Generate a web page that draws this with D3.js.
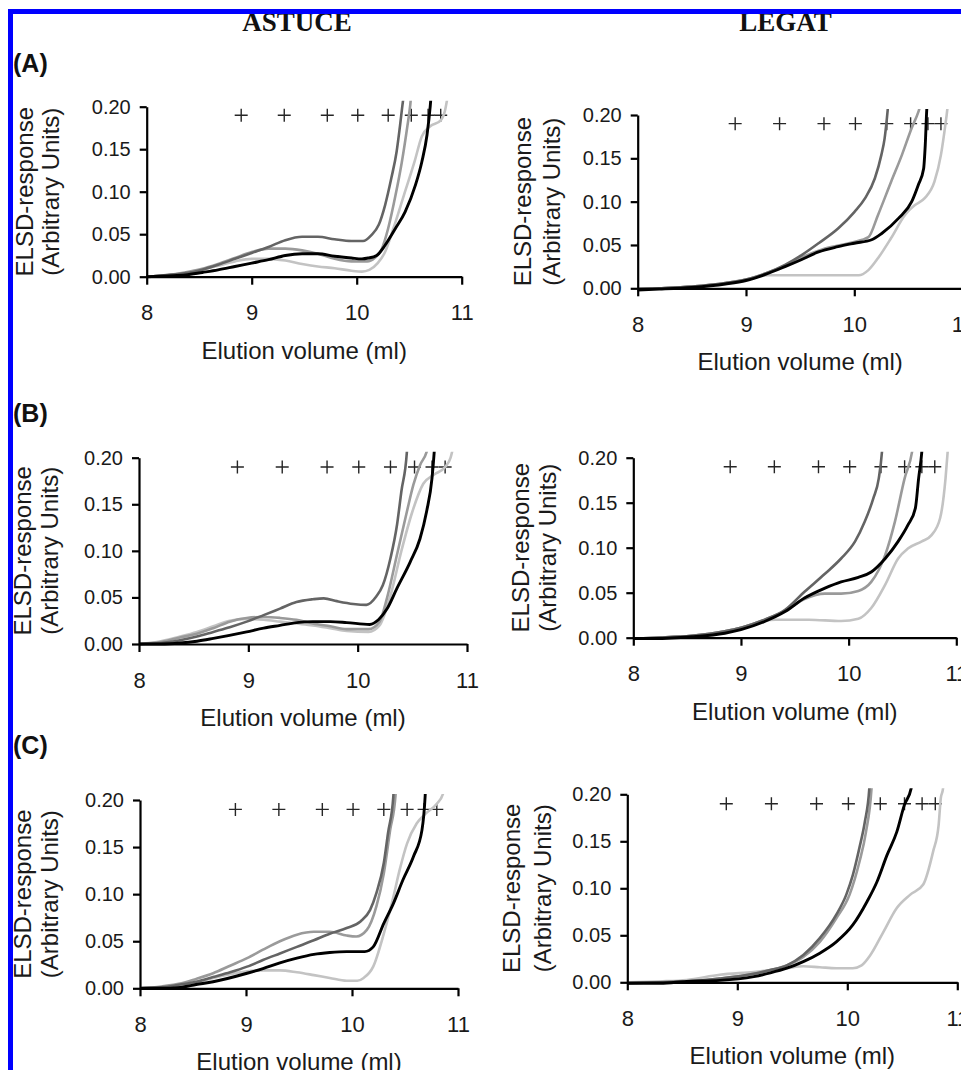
<!DOCTYPE html>
<html>
<head>
<meta charset="utf-8">
<script src="https://cdn.jsdelivr.net/npm/d3@7"></script>
<style>
  html, body { margin: 0; padding: 0; background: #ffffff; }
  svg { display: block; }
</style>
</head>
<body>
<script>
// ---------------- DATA ----------------
const columnTitles = ["ASTUCE", "LEGAT"];
const rowLabels = ["(A)", "(B)", "(C)"];
const xTicks = [8, 9, 10, 11];
const yTicks = [0, 0.05, 0.10, 0.15, 0.20];
const xTitle = "Elution volume (ml)";
const yTitle1 = "ELSD-response";
const yTitle2 = "(Arbitrary Units)";
// calibration standards (+ markers), elution volume (ml) and plotted level
const markerVolumes = [8.9, 9.31, 9.72, 10.01, 10.3, 10.52, 10.68, 10.8];
const markerLevel = 0.19;

// ASTUCE (A)
const astuceA_light  = [[8.0,0],[8.2,0.002],[8.36,0.004],[8.52,0.008],[8.68,0.013],[8.84,0.018],[9.0,0.021],[9.16,0.021],[9.32,0.019],[9.48,0.015],[9.63,0.012],[9.79,0.010],[9.95,0.007],[10.05,0.006],[10.12,0.008],[10.2,0.016],[10.27,0.029],[10.35,0.057],[10.45,0.096],[10.55,0.135],[10.62,0.165],[10.7,0.177],[10.8,0.184],[10.84,0.195],[10.87,0.215]];
const astuceA_medium = [[8.0,0],[8.2,0.002],[8.36,0.005],[8.52,0.009],[8.68,0.015],[8.84,0.022],[9.0,0.029],[9.16,0.033],[9.32,0.033],[9.48,0.031],[9.63,0.027],[9.79,0.021],[9.95,0.018],[10.1,0.018],[10.17,0.022],[10.24,0.033],[10.30,0.057],[10.37,0.096],[10.43,0.135],[10.48,0.175],[10.51,0.202],[10.52,0.215]];
const astuceA_dark   = [[8.0,0],[8.2,0.002],[8.36,0.004],[8.52,0.008],[8.68,0.014],[8.84,0.021],[9.0,0.028],[9.16,0.035],[9.32,0.043],[9.48,0.047],[9.63,0.047],[9.79,0.044],[9.95,0.042],[10.06,0.042],[10.14,0.049],[10.21,0.061],[10.27,0.084],[10.33,0.116],[10.38,0.147],[10.41,0.175],[10.44,0.206],[10.45,0.215]];
const astuceA_black  = [[8.0,0],[8.2,0.001],[8.37,0.002],[8.53,0.005],[8.68,0.008],[8.84,0.012],[9.0,0.016],[9.16,0.020],[9.32,0.025],[9.48,0.027],[9.63,0.027],[9.79,0.024],[9.95,0.022],[10.05,0.021],[10.11,0.022],[10.19,0.025],[10.27,0.037],[10.37,0.057],[10.46,0.076],[10.56,0.108],[10.62,0.135],[10.67,0.167],[10.70,0.2],[10.71,0.215]];

// LEGAT (A)
const legatA_light  = [[8.0,-0.001],[8.2,0],[8.5,0.002],[8.81,0.006],[9.0,0.010],[9.2,0.015],[9.4,0.015],[9.7,0.015],[10.04,0.015],[10.13,0.021],[10.22,0.035],[10.34,0.058],[10.47,0.085],[10.56,0.096],[10.65,0.104],[10.74,0.123],[10.8,0.154],[10.84,0.188],[10.86,0.208],[10.865,0.215]];
const legatA_medium = [[8.0,-0.001],[8.2,0],[8.5,0.002],[8.81,0.006],[9.0,0.010],[9.18,0.017],[9.36,0.026],[9.54,0.037],[9.73,0.046],[9.98,0.053],[10.13,0.059],[10.22,0.085],[10.34,0.123],[10.44,0.154],[10.53,0.185],[10.59,0.203],[10.62,0.215]];
const legatA_dark   = [[8.0,-0.001],[8.2,0],[8.5,0.002],[8.81,0.006],[9.0,0.010],[9.18,0.017],[9.36,0.027],[9.51,0.038],[9.67,0.052],[9.85,0.069],[10.0,0.088],[10.1,0.104],[10.19,0.127],[10.25,0.154],[10.28,0.173],[10.31,0.208],[10.315,0.215]];
const legatA_black  = [[8.0,-0.002],[8.2,-0.001],[8.5,0.001],[8.81,0.005],[9.0,0.009],[9.18,0.016],[9.36,0.025],[9.51,0.033],[9.67,0.042],[9.85,0.048],[10.0,0.052],[10.16,0.056],[10.25,0.063],[10.41,0.081],[10.53,0.1],[10.59,0.119],[10.64,0.138],[10.655,0.165],[10.67,0.208],[10.675,0.215]];

// ASTUCE (B)
const astuceB_light  = [[8.0,0],[8.2,0.003],[8.375,0.008],[8.53,0.013],[8.68,0.019],[8.83,0.025],[8.985,0.027],[9.14,0.026],[9.29,0.024],[9.44,0.022],[9.59,0.020],[9.75,0.017],[9.9,0.014],[10.1,0.013],[10.2,0.020],[10.3,0.052],[10.4,0.1],[10.5,0.142],[10.6,0.172],[10.7,0.182],[10.8,0.19],[10.85,0.2],[10.88,0.215]];
const astuceB_medium = [[8.0,0],[8.2,0.002],[8.375,0.007],[8.53,0.011],[8.68,0.017],[8.83,0.024],[8.985,0.028],[9.14,0.029],[9.29,0.028],[9.44,0.026],[9.59,0.022],[9.75,0.019],[9.9,0.016],[10.1,0.016],[10.2,0.024],[10.27,0.050],[10.36,0.096],[10.45,0.142],[10.51,0.171],[10.57,0.192],[10.63,0.206],[10.65,0.215]];
const astuceB_dark   = [[8.0,0],[8.2,0.001],[8.375,0.004],[8.53,0.008],[8.68,0.013],[8.83,0.018],[8.985,0.024],[9.14,0.031],[9.29,0.038],[9.44,0.045],[9.59,0.048],[9.69,0.049],[9.81,0.046],[9.96,0.043],[10.08,0.042],[10.17,0.051],[10.23,0.063],[10.30,0.092],[10.36,0.128],[10.40,0.164],[10.45,0.206],[10.455,0.215]];
const astuceB_black  = [[8.0,0],[8.2,0],[8.375,0.001],[8.53,0.003],[8.68,0.006],[8.985,0.013],[9.14,0.017],[9.29,0.020],[9.44,0.023],[9.59,0.024],[9.75,0.024],[9.9,0.023],[10.11,0.021],[10.19,0.026],[10.27,0.038],[10.36,0.060],[10.48,0.088],[10.57,0.113],[10.63,0.142],[10.68,0.178],[10.70,0.206],[10.705,0.215]];

// LEGAT (B)
const legatB_light  = [[8.0,-0.001],[8.2,0],[8.54,0.002],[8.85,0.007],[9.0,0.011],[9.22,0.019],[9.32,0.020],[9.63,0.020],[9.93,0.0185],[10.09,0.021],[10.21,0.033],[10.34,0.059],[10.46,0.088],[10.55,0.099],[10.68,0.107],[10.77,0.114],[10.85,0.133],[10.9,0.177],[10.92,0.207],[10.925,0.215]];
const legatB_medium = [[8.0,-0.001],[8.2,0],[8.54,0.002],[8.85,0.007],[9.0,0.011],[9.22,0.020],[9.41,0.030],[9.59,0.043],[9.78,0.049],[9.93,0.049],[10.09,0.052],[10.21,0.062],[10.34,0.092],[10.43,0.129],[10.52,0.177],[10.59,0.207],[10.6,0.215]];
const legatB_dark   = [[8.0,-0.001],[8.2,0],[8.54,0.002],[8.85,0.007],[9.0,0.011],[9.22,0.020],[9.41,0.031],[9.59,0.051],[9.78,0.071],[9.93,0.088],[10.06,0.107],[10.15,0.129],[10.23,0.155],[10.28,0.177],[10.31,0.207],[10.315,0.215]];
const legatB_black  = [[8.0,-0.001],[8.2,-0.001],[8.54,0.001],[8.85,0.005],[9.0,0.009],[9.22,0.018],[9.41,0.029],[9.59,0.044],[9.78,0.055],[9.93,0.062],[10.09,0.067],[10.21,0.073],[10.34,0.088],[10.46,0.107],[10.55,0.125],[10.62,0.144],[10.65,0.177],[10.68,0.207],[10.685,0.215]];

// ASTUCE (C)
const astuceC_light  = [[8.0,0],[8.2,0.001],[8.38,0.002],[8.53,0.006],[8.69,0.011],[8.85,0.015],[9.01,0.018],[9.16,0.019],[9.32,0.019],[9.48,0.017],[9.64,0.014],[9.79,0.011],[9.95,0.008],[10.05,0.008],[10.11,0.011],[10.2,0.023],[10.3,0.058],[10.39,0.097],[10.45,0.126],[10.52,0.154],[10.61,0.175],[10.70,0.186],[10.80,0.196],[10.86,0.207],[10.87,0.215]];
const astuceC_medium = [[8.0,0],[8.2,0.002],[8.38,0.005],[8.53,0.010],[8.69,0.016],[8.85,0.024],[9.01,0.032],[9.16,0.041],[9.32,0.050],[9.48,0.057],[9.64,0.060],[9.79,0.060],[9.95,0.056],[10.04,0.055],[10.14,0.062],[10.23,0.087],[10.30,0.122],[10.36,0.168],[10.41,0.204],[10.415,0.215]];
const astuceC_dark   = [[8.0,0],[8.2,0.001],[8.38,0.004],[8.53,0.007],[8.69,0.012],[8.85,0.017],[9.01,0.023],[9.16,0.030],[9.32,0.037],[9.48,0.044],[9.64,0.051],[9.79,0.058],[9.95,0.064],[10.08,0.071],[10.17,0.083],[10.23,0.101],[10.30,0.133],[10.34,0.165],[10.39,0.204],[10.395,0.215]];
const astuceC_black  = [[8.0,0],[8.2,0],[8.38,0.001],[8.53,0.004],[8.69,0.007],[9.01,0.016],[9.16,0.021],[9.32,0.027],[9.48,0.032],[9.64,0.036],[9.79,0.038],[9.95,0.039],[10.12,0.039],[10.20,0.044],[10.30,0.069],[10.39,0.090],[10.48,0.115],[10.58,0.140],[10.66,0.168],[10.69,0.204],[10.695,0.215]];

// LEGAT (C)
const legatC_light  = [[8.0,0],[8.3,0.001],[8.54,0.0025],[8.84,0.008],[9.15,0.011],[9.45,0.015],[9.6,0.017],[9.75,0.016],[9.9,0.015],[10.05,0.015],[10.13,0.018],[10.21,0.029],[10.33,0.054],[10.45,0.079],[10.57,0.093],[10.69,0.104],[10.78,0.139],[10.83,0.167],[10.85,0.196],[10.87,0.206],[10.875,0.215]];
const legatC_medium = [[8.0,-0.001],[8.3,0],[8.54,0.001],[8.84,0.004],[9.15,0.009],[9.3,0.013],[9.45,0.018],[9.6,0.027],[9.75,0.043],[9.9,0.068],[10.02,0.093],[10.11,0.128],[10.17,0.160],[10.22,0.206],[10.225,0.215]];
const legatC_dark   = [[8.0,-0.001],[8.3,0],[8.54,0.001],[8.84,0.004],[9.15,0.009],[9.3,0.013],[9.45,0.018],[9.6,0.029],[9.75,0.047],[9.9,0.072],[9.99,0.093],[10.05,0.114],[10.11,0.143],[10.16,0.171],[10.2,0.206],[10.205,0.215]];
const legatC_black  = [[8.0,-0.001],[8.3,-0.001],[8.54,0.001],[8.84,0.002],[9.15,0.006],[9.3,0.010],[9.45,0.015],[9.6,0.022],[9.75,0.031],[9.9,0.043],[10.05,0.061],[10.18,0.086],[10.27,0.107],[10.36,0.135],[10.45,0.160],[10.52,0.189],[10.58,0.206],[10.59,0.215]];

// ---------------- STYLE / LAYOUT ----------------
const seriesColors = { light: "#c3c3c3", medium: "#9a9a9a", dark: "#646464", black: "#000000" };
const seriesWidths = { light: 2.6, medium: 2.6, dark: 2.6, black: 2.9 };
const seriesOrder = ["light", "medium", "dark", "black"];

const panelData = [
  { light: astuceA_light, medium: astuceA_medium, dark: astuceA_dark, black: astuceA_black },
  { light: legatA_light,  medium: legatA_medium,  dark: legatA_dark,  black: legatA_black },
  { light: astuceB_light, medium: astuceB_medium, dark: astuceB_dark, black: astuceB_black },
  { light: legatB_light,  medium: legatB_medium,  dark: legatB_dark,  black: legatB_black },
  { light: astuceC_light, medium: astuceC_medium, dark: astuceC_dark, black: astuceC_black },
  { light: legatC_light,  medium: legatC_medium,  dark: legatC_dark,  black: legatC_black }
];
// pixel frames of each panel: x(8)..x(11), y(0)..y(0.2), y-title baselines
const panelLayout = [
  { x0: 146.7, x1: 461.7, y0: 276.7, y1: 106.7, t1: 33,  t2: 59 },
  { x0: 637.7, x1: 962.6, y0: 288.3, y1: 115.0, t1: 531, t2: 560 },
  { x0: 139.0, x1: 467.0, y0: 644.0, y1: 457.7, t1: 31,  t2: 58 },
  { x0: 633.3, x1: 956.3, y0: 637.7, y1: 457.7, t1: 529, t2: 556 },
  { x0: 140.0, x1: 458.0, y0: 988.3, y1: 800.0, t1: 31,  t2: 58 },
  { x0: 627.3, x1: 957.3, y0: 982.3, y1: 794.3, t1: 520, t2: 551 }
];
const sans = "'Liberation Sans', Arial, Helvetica, sans-serif";
const serif = "'Liberation Serif', 'Times New Roman', serif";

const W = 961, H = 1070;
const svg = d3.select("body").append("svg").attr("width", W).attr("height", H)
  .style("font-family", sans);

const defs = svg.append("defs");

panelLayout.forEach((p, i) => {
  const x = d3.scaleLinear().domain([8, 11]).range([p.x0, p.x1]);
  const y = d3.scaleLinear().domain([0, 0.2]).range([p.y0, p.y1]);
  const g = svg.append("g");

  defs.append("clipPath").attr("id", "clip" + i)
    .append("rect")
    .attr("x", p.x0 - 6).attr("y", y(0.2) - 6)
    .attr("width", p.x1 - p.x0 + 6).attr("height", p.y0 - y(0.2) + 12);

  // markers
  g.append("g").selectAll("path").data(markerVolumes).join("path")
    .attr("transform", d => `translate(${x(d)},${y(markerLevel)})`)
    .attr("d", "M-6.5,0H6.5M0,-6.5V6.5")
    .attr("stroke", "#262626").attr("stroke-width", 1.4).attr("fill", "none");

  // curves
  const line = d3.line().x(d => x(d[0])).y(d => y(d[1])).curve(d3.curveMonotoneX);
  const lg = g.append("g").attr("clip-path", `url(#clip${i})`);
  seriesOrder.forEach(k => {
    lg.append("path").datum(panelData[i][k])
      .attr("d", line)
      .attr("fill", "none")
      .attr("stroke", seriesColors[k])
      .attr("stroke-width", seriesWidths[k])
      .attr("stroke-linejoin", "round");
  });

  // axes
  const yAxis = d3.axisLeft(y).tickValues(yTicks).tickFormat(d3.format(".2f"))
    .tickSize(7).tickSizeOuter(0).tickPadding(9);
  const xAxis = d3.axisBottom(x).tickValues(xTicks).tickFormat(d3.format("d"))
    .tickSize(8).tickSizeOuter(0).tickPadding(20);

  const ya = g.append("g").attr("transform", `translate(${p.x0},0)`).call(yAxis);
  const xa = g.append("g").attr("transform", `translate(0,${p.y0})`).call(xAxis);
  [ya, xa].forEach(a => {
    a.select(".domain").attr("stroke", "#000").attr("stroke-width", 2.2);
    a.selectAll(".tick line").attr("stroke", "#000").attr("stroke-width", 2.2);
    a.selectAll(".tick text").attr("fill", "#1a1a1a").style("font-family", sans);
  });
  ya.selectAll(".tick text").style("font-size", "20px");
  xa.selectAll(".tick text").style("font-size", "22px");

  // axis titles
  g.append("text")
    .attr("x", (p.x0 + p.x1) / 2).attr("y", p.y0 + 82)
    .attr("text-anchor", "middle").style("font-size", "24px").attr("fill", "#1a1a1a")
    .text(xTitle);
  const cy = (p.y0 + p.y1) / 2;
  g.append("text")
    .attr("transform", `translate(${p.t1},${cy}) rotate(-90)`)
    .attr("text-anchor", "middle").style("font-size", "24px").attr("fill", "#1a1a1a")
    .text(yTitle1);
  g.append("text")
    .attr("transform", `translate(${p.t2},${cy}) rotate(-90)`)
    .attr("text-anchor", "middle").style("font-size", "24px").attr("fill", "#1a1a1a")
    .text(yTitle2);
});

// column titles
const titleX = [297, 785.5];
columnTitles.forEach((t, i) => {
  svg.append("text").attr("x", titleX[i]).attr("y", 31)
    .attr("text-anchor", "middle")
    .style("font-family", serif).style("font-weight", "bold").style("font-size", "27px")
    .attr("fill", "#111").text(t);
});

// row labels
const rowY = [72, 422, 754];
rowLabels.forEach((t, i) => {
  svg.append("text").attr("x", 13).attr("y", rowY[i])
    .style("font-weight", "bold").style("font-size", "25px")
    .attr("fill", "#111").text(t);
});

// blue frame
svg.append("rect").attr("x", 10.5).attr("y", 11.5)
  .attr("width", 2000).attr("height", 2000)
  .attr("fill", "none").attr("stroke", "#0000ff").attr("stroke-width", 5);
</script>
</body>
</html>
